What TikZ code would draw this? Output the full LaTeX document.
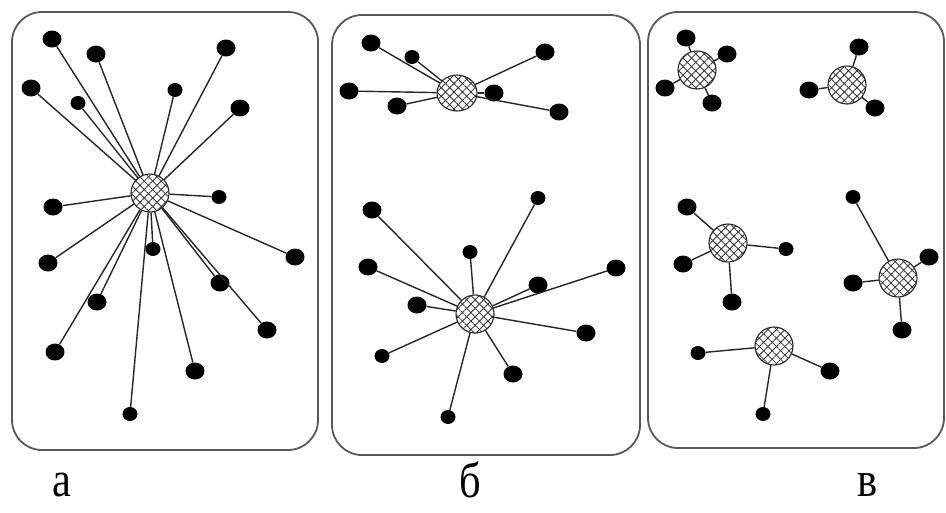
\documentclass[tikz,border=0pt]{standalone}
\usepackage{fontspec}
\setmainfont{Liberation Serif}
\usetikzlibrary{patterns.meta,shapes.geometric}
\tikzset{
  panel/.style={draw=black!65, line width=1.8pt, rounded corners=30pt},
  hub/.style={circle, draw=black!85, line width=1.1pt, minimum size=38pt, inner sep=0pt,
    preaction={fill=white},
    postaction={pattern={Lines[angle=45,distance=6pt,line width=0.8pt]}, pattern color=black!80},
    postaction={pattern={Lines[angle=-45,distance=6pt,line width=0.8pt]}, pattern color=black!80}},
  dot/.style={ellipse, fill=black, draw=none, minimum width=19pt, minimum height=17pt, inner sep=0pt},
  sdot/.style={ellipse, fill=black, draw=none, minimum width=15pt, minimum height=14pt, inner sep=0pt},
  link/.style={draw=black!85, line width=1.4pt},
  lbl/.style={font=\fontsize{50}{50}\selectfont, xscale=0.85, inner sep=0pt}
}
\begin{document}
\begin{tikzpicture}[x=1pt,y=-1pt]
\useasboundingbox (0,0) rectangle (946,512);
\fill[white] (0,0) rectangle (946,512);
% panels
\draw[panel] (12,12) rectangle (318,450);
\draw[panel] (332,15) rectangle (640,455);
\draw[panel] (648,12) rectangle (944,448);
% ---------- panel a ----------
\node[hub] (ha) at (150,193) {};
\foreach \n/\x/\y/\s in {a1/52/39/dot, a2/96/54/dot, a3/31/88/dot, a4/78/103/sdot, a5/175/90/sdot, a6/226/48/dot, a7/240/108/dot, a8/219/197/sdot, a9/53/207/dot, a10/48/263/dot, a11/153/249/sdot, a12/295/257/dot, a13/220/283/dot, a14/97/302/dot, a15/267/330/dot, a16/55/352/dot, a17/195/371/dot, a18/130/414/sdot}
  {\node[\s] (\n) at (\x,\y) {}; \draw[link] (ha) -- (\n);}
% ---------- panel b top ----------
\node[hub, ellipse, minimum width=40pt, minimum height=36pt] (hb1) at (457,93) {};
\foreach \n/\x/\y/\s in {b1/371/43/dot, b2/412/57/sdot, b3/349/91/dot, b4/397/106/dot, b5/494/93/dot, b6/545/52/dot, b7/559/112/dot}
  {\node[\s] (\n) at (\x,\y) {}; \draw[link] (hb1) -- (\n);}
% ---------- panel b bottom ----------
\node[hub] (hb2) at (475,314) {};
\foreach \n/\x/\y/\s in {c1/372/210/dot, c2/538/198/sdot, c3/368/267/dot, c4/470/252/sdot, c5/417/305/dot, c6/538/285/dot, c7/616/268/dot, c8/586/333/dot, c9/382/356/sdot, c10/513/374/dot, c11/448/417/sdot}
  {\node[\s] (\n) at (\x,\y) {}; \draw[link] (hb2) -- (\n);}
% ---------- panel v ----------
\node[hub] (hv1) at (697,70) {};
\foreach \n/\x/\y/\s in {d1/686/38/dot, d2/727/54/dot, d3/665/88/dot, d4/712/103/dot}
  {\node[\s] (\n) at (\x,\y) {}; \draw[link] (hv1) -- (\n);}
\node[hub] (hv2) at (847,85) {};
\foreach \n/\x/\y/\s in {e1/859/47/dot, e2/809/90/dot, e3/875/108/dot}
  {\node[\s] (\n) at (\x,\y) {}; \draw[link] (hv2) -- (\n);}
\node[hub] (hv3) at (728,243) {};
\foreach \n/\x/\y/\s in {f1/687/207/dot, f2/786/249/sdot, f3/683/264/dot, f4/732/302/dot}
  {\node[\s] (\n) at (\x,\y) {}; \draw[link] (hv3) -- (\n);}
\node[hub] (hv4) at (898,278) {};
\foreach \n/\x/\y/\s in {g1/853/197/sdot, g2/929/257/dot, g3/853/283/dot, g4/902/330/dot}
  {\node[\s] (\n) at (\x,\y) {}; \draw[link] (hv4) -- (\n);}
\node[hub] (hv5) at (774,346) {};
\foreach \n/\x/\y/\s in {k1/698/353/sdot, k2/830/371/dot, k3/763/414/sdot}
  {\node[\s] (\n) at (\x,\y) {}; \draw[link] (hv5) -- (\n);}
% labels
\node[lbl] (la) at (62,485) {а};
\node[lbl] (lb) at (470,480) {б};
\node[lbl] (lv) at (868,485) {в};
\end{tikzpicture}
\end{document}
